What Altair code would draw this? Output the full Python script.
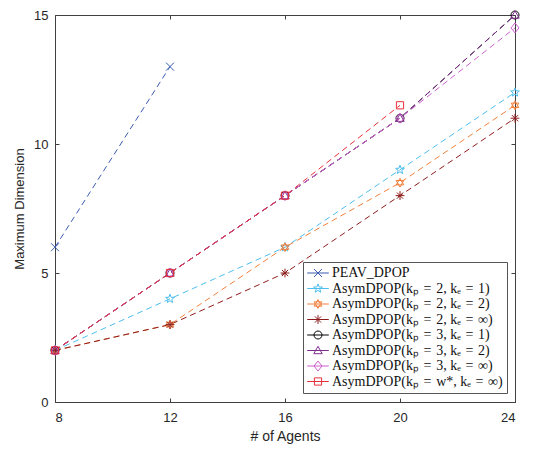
import altair as alt
import pandas as pd

agents = [8, 12, 16, 20, 24]
series = [
    "PEAV_DPOP",
    "AsymDPOP(kₚ\u2004=\u20042, kₑ\u2004=\u20041)",
    "AsymDPOP(kₚ\u2004=\u20042, kₑ\u2004=\u20042)",
    "AsymDPOP(kₚ\u2004=\u20042, kₑ\u2004=\u2004∞)",
    "AsymDPOP(kₚ\u2004=\u20043, kₑ\u2004=\u20041)",
    "AsymDPOP(kₚ\u2004=\u20043, kₑ\u2004=\u20042)",
    "AsymDPOP(kₚ\u2004=\u20043, kₑ\u2004=\u2004∞)",
    "AsymDPOP(kₚ\u2004=\u2004w*, kₑ\u2004=\u2004∞)",
]
values = [
    [6, 13],
    [2, 4, 6, 9, 12],
    [2, 3, 6, 8.5, 11.5],
    [2, 3, 5, 8, 11],
    [2, 5, 8, 11, 15],
    [2, 5, 8, 11, 15],
    [2, 5, 8, 11, 14.5],
    [2, 5, 8, 11.5],
]
colors = ["#3A5BAF", "#4DBEEE", "#F0803C", "#8E1C1C", "#000000", "#7E2F8E", "#CC5FCC", "#E8303A"]

markers = [
    "M-1,-1L1,1M-1,1L1,-1",
    "M0,-1.15L0.282,-0.388L1.094,-0.355L0.456,0.148L0.676,0.93L0,0.48L-0.676,0.93L-0.456,0.148L-1.094,-0.355L-0.282,-0.388Z",
    "M0,-1.1L0.95,0.55L-0.95,0.55ZM0,1.1L0.95,-0.55L-0.95,-0.55Z",
    "M-1.1,0L1.1,0M0,-1.1L0,1.1M-0.78,-0.78L0.78,0.78M-0.78,0.78L0.78,-0.78",
    "M1,0A1,1 0 1,1 -1,0A1,1 0 1,1 1,0Z",
    "M0,-1.05L1.05,0.8L-1.05,0.8Z",
    "M0,-1.25L1,0L0,1.25L-1,0Z",
    "M-0.9,-0.9L0.9,-0.9L0.9,0.9L-0.9,0.9Z",
]
legend_markers = ["M-2.7,0L2.7,0" + m for m in markers]

yticks = [0, 5, 10, 15]

rows = []
for s, vals in zip(series, values):
    for xv, yv in zip(agents, vals):
        rows.append({"series": s, "agents": xv, "dim": yv})
df = pd.DataFrame(rows)

W, H = 460, 387
axis_col = "#404040"
sans = "Liberation Sans"

xscale = alt.Scale(domain=[8, 24], nice=False)
yscale = alt.Scale(domain=[0, 15], nice=False)
cscale = alt.Scale(domain=series, range=colors)

base = alt.Chart(df)

lines = base.mark_line(strokeDash=[6, 4], strokeWidth=1).encode(
    x=alt.X("agents:Q", scale=xscale,
            axis=alt.Axis(orient="bottom", values=agents, ticks=False, grid=False,
                          title="# of Agents", titleFontSize=14, titleFontWeight="normal",
                          titleFont=sans, labelFont=sans, labelFontSize=13,
                          labelPadding=9, titlePadding=5, domainColor=axis_col,
                          labelColor="#262626", titleColor="#262626")),
    y=alt.Y("dim:Q", scale=yscale,
            axis=alt.Axis(orient="left", values=yticks, ticks=False, grid=False,
                          title="Maximum Dimension", titleFontSize=13, titleFontWeight="normal",
                          titleFont=sans, labelFont=sans, labelFontSize=13,
                          labelPadding=7, titlePadding=7, domainColor=axis_col,
                          labelColor="#262626", titleColor="#262626")),
    color=alt.Color("series:N", scale=cscale, legend=None),
    detail="series:N",
    order="agents:Q",
)

points = base.mark_point(filled=False, size=64, strokeWidth=1, opacity=1).encode(
    x=alt.X("agents:Q", scale=xscale,
            axis=alt.Axis(orient="top", offset=-H, values=agents, labels=False, title=None,
                          domain=False, grid=False, tickSize=4, tickColor=axis_col)),
    y=alt.Y("dim:Q", scale=yscale,
            axis=alt.Axis(orient="right", offset=-W, values=yticks, labels=False, title=None,
                          domain=False, grid=False, tickSize=4, tickColor=axis_col)),
    color=alt.Color("series:N", scale=cscale, legend=None),
    shape=alt.Shape("series:N", scale=alt.Scale(domain=series, range=markers), legend=None),
)

leg = alt.Legend(
    title=None, orient="none", legendX=248, legendY=247,
    fillColor="white", strokeColor="#555555", padding=4,
    labelFont="Liberation Serif", labelFontSize=14, labelColor="#111111",
    labelLimit=400, symbolSize=64, symbolStrokeWidth=1, symbolOffset=4,
    labelOffset=7, rowPadding=1.5, symbolType="circle",
)

legend_layer = base.mark_point(filled=False, size=64, strokeWidth=1, opacity=0).encode(
    x=alt.X("agents:Q", scale=xscale,
            axis=alt.Axis(orient="bottom", offset=-H, values=agents, labels=False, title=None,
                          domain=True, domainColor=axis_col, grid=False, tickSize=4,
                          tickColor=axis_col)),
    y=alt.Y("dim:Q", scale=yscale,
            axis=alt.Axis(orient="left", offset=-W, values=yticks, labels=False, title=None,
                          domain=True, domainColor=axis_col, grid=False, tickSize=4,
                          tickColor=axis_col)),
    color=alt.Color("series:N", scale=cscale, legend=leg),
    shape=alt.Shape("series:N", scale=alt.Scale(domain=series, range=legend_markers), legend=leg),
)

chart = (
    alt.layer(lines, points, legend_layer)
    .resolve_scale(color="independent", shape="independent")
    .resolve_axis(x="independent", y="independent")
    .properties(width=W, height=H, autosize=alt.AutoSizeParams(type="none"),
                padding={"left": 47, "top": 7, "right": 13, "bottom": 42})
    .configure_view(stroke=None)
    .configure(background="white")
)

chart.save("out.html", embed_options={"renderer": "svg", "actions": False})
